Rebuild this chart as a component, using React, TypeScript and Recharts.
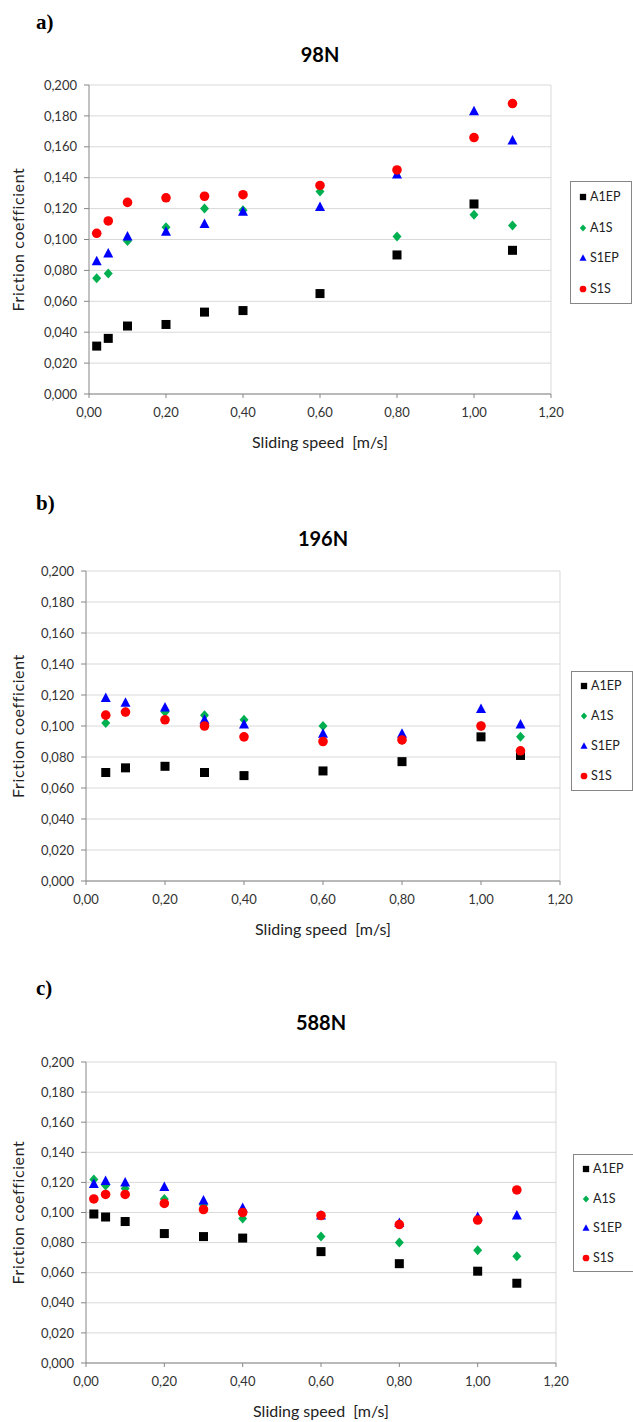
import React from "react";
import {
  CartesianGrid,
  Label,
  ReferenceLine,
  Scatter,
  ScatterChart,
  XAxis,
  YAxis,
} from "recharts";

const xTicks = [0, 0.2, 0.4, 0.6, 0.8, 1.0, 1.2];
const yTicks = [0, 0.02, 0.04, 0.06, 0.08, 0.1, 0.12, 0.14, 0.16, 0.18, 0.2];

// 98N
const speeds98 = [0.02, 0.05, 0.1, 0.2, 0.3, 0.4, 0.6, 0.8, 1.0, 1.1];
const a1ep98 = [0.031, 0.036, 0.044, 0.045, 0.053, 0.054, 0.065, 0.09, 0.123, 0.093];
const a1s98 = [0.075, 0.078, 0.099, 0.108, 0.12, 0.119, 0.131, 0.102, 0.116, 0.109];
const s1ep98 = [0.086, 0.091, 0.102, 0.105, 0.11, 0.118, 0.121, 0.142, 0.183, 0.164];
const s1s98 = [0.104, 0.112, 0.124, 0.127, 0.128, 0.129, 0.135, 0.145, 0.166, 0.188];

// 196N
const speeds196 = [0.05, 0.1, 0.2, 0.3, 0.4, 0.6, 0.8, 1.0, 1.1];
const a1ep196 = [0.07, 0.073, 0.074, 0.07, 0.068, 0.071, 0.077, 0.093, 0.081];
const a1s196 = [0.102, 0.109, 0.109, 0.107, 0.104, 0.1, 0.091, 0.1, 0.093];
const s1ep196 = [0.118, 0.115, 0.112, 0.104, 0.101, 0.095, 0.095, 0.111, 0.101];
const s1s196 = [0.107, 0.109, 0.104, 0.1, 0.093, 0.09, 0.091, 0.1, 0.084];

// 588N
const speeds588 = [0.02, 0.05, 0.1, 0.2, 0.3, 0.4, 0.6, 0.8, 1.0, 1.1];
const a1ep588 = [0.099, 0.097, 0.094, 0.086, 0.084, 0.083, 0.074, 0.066, 0.061, 0.053];
const a1s588 = [0.122, 0.118, 0.116, 0.109, 0.105, 0.096, 0.084, 0.08, 0.075, 0.071];
const s1ep588 = [0.119, 0.121, 0.12, 0.117, 0.108, 0.103, 0.098, 0.093, 0.097, 0.098];
const s1s588 = [0.109, 0.112, 0.112, 0.106, 0.102, 0.1, 0.098, 0.092, 0.095, 0.115];

const seriesNames = ["A1EP", "A1S", "S1EP", "S1S"];
const seriesColors = ["#000000", "#00b050", "#0000ff", "#ff0000"];

const FONT = "Lato, 'Liberation Sans', Arial, sans-serif";
const AXIS = "#868686";

function toPoints(speeds: number[], vals: number[]) {
  return speeds.map((x, i) => ({ x, y: vals[i] }));
}

function Marker({ kind, cx, cy, s = 1 }: { kind: number; cx: number; cy: number; s?: number }) {
  const c = seriesColors[kind];
  if (kind === 0)
    return <rect x={cx - 4.5 * s} y={cy - 4.5 * s} width={9 * s} height={9 * s} fill={c} />;
  if (kind === 1)
    return (
      <polygon
        points={`${cx},${cy - 5 * s} ${cx + 4.5 * s},${cy} ${cx},${cy + 5 * s} ${cx - 4.5 * s},${cy}`}
        fill={c}
      />
    );
  if (kind === 2)
    return (
      <polygon
        points={`${cx},${cy - 5.5 * s} ${cx + 5 * s},${cy + 4 * s} ${cx - 5 * s},${cy + 4 * s}`}
        fill={c}
      />
    );
  return <circle cx={cx} cy={cy} r={4.8 * s} fill={c} />;
}

const panels = [
  {
    letter: "a)",
    title: "98N",
    speeds: speeds98,
    values: [a1ep98, a1s98, s1ep98, s1s98],
    top: 0,
    height: 460,
    plotLeft: 89,
    plotRight: 551,
    plotTop: 85,
    plotBottom: 394,
    letterY: 22,
    titleY: 54,
    legend: { left: 570, top: 181, height: 123 },
  },
  {
    letter: "b)",
    title: "196N",
    speeds: speeds196,
    values: [a1ep196, a1s196, s1ep196, s1s196],
    top: 480,
    height: 470,
    plotLeft: 86,
    plotRight: 560,
    plotTop: 571,
    plotBottom: 881,
    letterY: 503,
    titleY: 538,
    legend: { left: 571, top: 671, height: 120 },
  },
  {
    letter: "c)",
    title: "588N",
    speeds: speeds588,
    values: [a1ep588, a1s588, s1ep588, s1s588],
    top: 960,
    height: 462,
    plotLeft: 86,
    plotRight: 556,
    plotTop: 1062,
    plotBottom: 1363,
    letterY: 988,
    titleY: 1022,
    legend: { left: 573, top: 1154, height: 118 },
  },
];

function Panel({ p }: { p: (typeof panels)[number] }) {
  const xAxisH = 30;
  return (
    <>
      <div
        style={{
          position: "absolute",
          left: 36,
          top: p.letterY - 12,
          height: 24,
          lineHeight: "24px",
          fontFamily: "'Liberation Serif', 'Times New Roman', serif",
          fontWeight: "bold",
          fontSize: 21,
        }}>
        {p.letter}
      </div>
      <div
        style={{
          position: "absolute",
          left: p.plotLeft,
          width: p.plotRight - p.plotLeft,
          top: p.titleY - 12,
          height: 24,
          lineHeight: "24px",
          textAlign: "center",
          fontFamily: FONT,
          fontWeight: "bold",
          fontSize: 20,
        }}>
        {p.title}
      </div>
      <div style={{ position: "absolute", left: 0, top: p.top }}>
        <ScatterChart
          width={633}
          height={p.height}
          style={{ fontFamily: FONT }}
          margin={{
            top: p.plotTop - p.top,
            right: 633 - p.plotRight,
            left: 0,
            bottom: p.top + p.height - p.plotBottom - xAxisH,
          }}>
          <CartesianGrid vertical={false} stroke='#d9d9d9' />
          <XAxis
            type='number'
            dataKey='x'
            domain={[0, 1.2]}
            ticks={xTicks}
            interval={0}
            height={xAxisH}
            tickFormatter={(v: number) => v.toFixed(2).replace(".", ",")}
            tick={{ fontSize: 13, fill: "#333" }}
            axisLine={{ stroke: AXIS }}
            tickLine={{ stroke: AXIS }}
            tickSize={4}
            tickMargin={10}>
            <Label
              value={"Sliding speed\u00a0\u00a0[m/s]"}
              position='bottom'
              offset={13}
              style={{ fontSize: 16, fill: "#222" }}
            />
          </XAxis>
          <YAxis
            type='number'
            dataKey='y'
            domain={[0, 0.2]}
            ticks={yTicks}
            interval={0}
            width={p.plotLeft}
            tickFormatter={(v: number) => v.toFixed(3).replace(".", ",")}
            tick={{ fontSize: 13, fill: "#333" }}
            axisLine={{ stroke: AXIS }}
            tickLine={{ stroke: AXIS }}
            tickSize={5}
            tickMargin={7}>
            <Label
              value='Friction coefficient'
              angle={-90}
              position='insideLeft'
              offset={18}
              style={{ fontSize: 16, fill: "#222", textAnchor: "middle", letterSpacing: 0.6 }}
            />
          </YAxis>
          <ReferenceLine x={1.2} stroke='#d9d9d9' />
          {p.values.map((vals, k) => (
            <Scatter
              key={seriesNames[k]}
              name={seriesNames[k]}
              data={toPoints(p.speeds, vals)}
              isAnimationActive={false}
              shape={(props: any) => <Marker kind={k} cx={props.cx} cy={props.cy} />}
            />
          ))}
        </ScatterChart>
      </div>
      <div
        style={{
          position: "absolute",
          left: p.legend.left,
          top: p.legend.top,
          width: 62,
          height: p.legend.height,
          boxSizing: "border-box",
          border: `1px solid ${AXIS}`,
          background: "#fff",
          fontFamily: FONT,
          fontSize: 12.5,
          color: "#222",
        }}>
        {seriesNames.map((name, k) => (
          <div
            key={name}
            style={{
              position: "absolute",
              left: 7,
              top: p.legend.height * (0.12 + 0.25 * k) - 8,
              height: 16,
              lineHeight: "16px",
              display: "flex",
              alignItems: "center",
            }}>
            <svg width={10} height={16}>
              <Marker kind={k} cx={5} cy={8} s={0.7} />
            </svg>
            <span style={{ marginLeft: 2 }}>{name}</span>
          </div>
        ))}
      </div>
    </>
  );
}

export default function App() {
  return (
    <div
      style={{
        position: "absolute",
        left: 0,
        top: 0,
        width: 633,
        height: 1422,
        background: "#fff",
        overflow: "hidden",
      }}>
      {panels.map((p) => (
        <Panel key={p.title} p={p} />
      ))}
    </div>
  );
}
